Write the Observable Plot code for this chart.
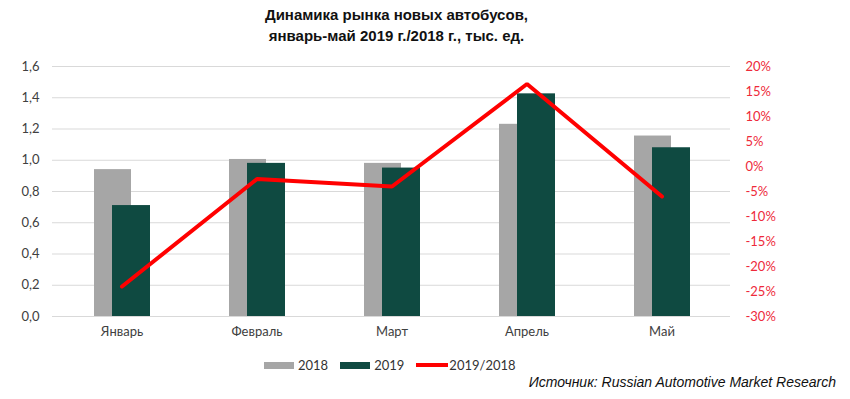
<!DOCTYPE html>
<html>
<head>
<meta charset="utf-8">
<script src="https://cdn.jsdelivr.net/npm/d3@7"></script>
<script src="https://cdn.jsdelivr.net/npm/@observablehq/plot@0.6"></script>
<style>
  body { margin: 0; background: #fff; }
  #wrap { position: relative; width: 850px; height: 399px; overflow: hidden; }
  #title { position: absolute; top: 4px; left: 0; width: 793px; text-align: center;
    font: bold 15px "Liberation Sans", Arial, sans-serif; line-height: 21px; color: #111; }
  #chart { position: absolute; top: 50px; left: 0; }
  #legend { position: absolute; top: 357px; left: 264px; font: 13px Lato, sans-serif; color: #333;
    display: flex; align-items: center; }
  .sw { display: inline-block; width: 30px; height: 7px; margin-right: 4px; }
  .ln { display: inline-block; width: 32px; height: 4px; background: #ff0000; margin-right: 1px; }
  .it { display: flex; align-items: center; margin-right: 12px; }
  #source { position: absolute; top: 374px; right: 14px; font: italic 14px "Liberation Sans", Arial, sans-serif; color: #111; }
</style>
</head>
<body>
<div id="wrap">
  <div id="title">Динамика рынка новых автобусов,<br>январь-май 2019 г./2018 г., тыс. ед.</div>
  <div id="chart"></div>
  <div id="legend">
    <span class="it"><span class="sw" style="background:#a6a6a6"></span>2018</span>
    <span class="it"><span class="sw" style="background:#0f4a41"></span>2019</span>
    <span class="it"><span class="ln"></span>2019/2018</span>
  </div>
  <div id="source">Источник: Russian Automotive Market Research</div>
</div>
<script>
const months = ["Январь", "Февраль", "Март", "Апрель", "Май"];
const sales2018 = [0.94, 1.005, 0.98, 1.23, 1.155];
const sales2019 = [0.71, 0.98, 0.95, 1.425, 1.08];
const ratioPct = [-24, -2.5, -4, 16.5, -6];
const leftTicks = [0, 0.2, 0.4, 0.6, 0.8, 1.0, 1.2, 1.4, 1.6];
const rightTicks = [-30, -25, -20, -15, -10, -5, 0, 5, 10, 15, 20];

// map right axis (percent, -30..20) onto left axis units (0..1.6)
const toY = p => (p + 30) / 50 * 1.6;
const fromY = v => v / 1.6 * 50 - 30;

const rows2018 = months.map((m, i) => ({month: m, value: sales2018[i]}));
const rows2019 = months.map((m, i) => ({month: m, value: sales2019[i]}));
const rowsPct = months.map((m, i) => ({month: m, value: toY(ratioPct[i])}));

const fmtLeft = v => d3.format(".1f")(v).replace(".", ",");

const chart = Plot.plot({
  width: 850,
  height: 300,
  marginLeft: 52,
  marginRight: 120,
  marginTop: 16,
  marginBottom: 34,
  style: {fontFamily: "Lato, sans-serif", fontSize: "13px", color: "#404040", background: "transparent"},
  x: {domain: months, padding: 0},
  y: {domain: [0, 1.6]},
  marks: [
    Plot.gridY(leftTicks, {stroke: "#d9d9d9", strokeOpacity: 1}),
    Plot.axisY(leftTicks, {tickSize: 0, tickPadding: 13, tickFormat: fmtLeft, label: null, fill: "#404040"}),
    Plot.axisY(rightTicks.map(toY), {anchor: "right", tickSize: 0, tickPadding: 15,
      tickFormat: v => Math.round(fromY(v)) + "%", label: null, fill: "#ee2a3a"}),
    Plot.axisX({tickSize: 0, tickPadding: 10, label: null, fill: "#404040"}),
    Plot.barY(rows2018, {x: "month", y: "value", fill: "#a6a6a6", insetLeft: 40, insetRight: 58}),
    Plot.barY(rows2019, {x: "month", y: "value", fill: "#0f4a41", insetLeft: 58, insetRight: 39}),
    Plot.line(rowsPct, {x: "month", y: "value", stroke: "#ff0000", strokeWidth: 4, strokeLinejoin: "miter"})
  ]
});
document.getElementById("chart").appendChild(chart);
</script>
</body>
</html>
